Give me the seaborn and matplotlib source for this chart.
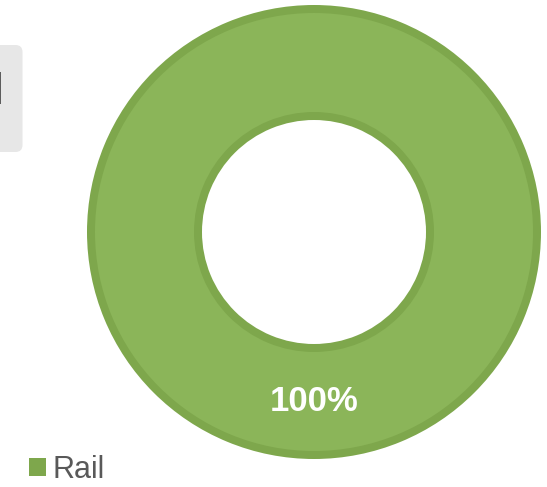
import matplotlib
matplotlib.use("Agg")
import matplotlib.pyplot as plt
from matplotlib.patches import FancyBboxPatch, Patch
import seaborn as sns

# Share of trips by mode
modes = ["Rail"]
shares = [100]
colors = ["#8bb559"]
edge_colors = ["#7ea74c"]

sns.set_theme(style="white")
plt.rcParams["font.family"] = ["Liberation Sans", "DejaVu Sans"]

W, H = 547, 487
fig = plt.figure(figsize=(W / 100, H / 100), dpi=100)
fig.patch.set_facecolor("white")


def px_box(x0, y0, w, h):
    """Pixel box (top-left origin) to figure fraction rect."""
    return [x0 / W, (H - y0 - h) / H, w / W, h / H]


# Donut axes: outer diameter 454 px
ax = fig.add_axes(px_box(87, 5, 454, 454))
ax.set_xlim(-1, 1)
ax.set_ylim(-1, 1)
ax.axis("off")

outer_r = 1.0
ring_w = 115 / 227
band = 8 / 227

# darker rim of the ring
ax.pie(shares, radius=outer_r, colors=edge_colors, startangle=90,
       counterclock=False, wedgeprops=dict(width=ring_w, linewidth=0))
# main fill of the ring with the percentage label
wedges, texts, autotexts = ax.pie(
    shares, radius=outer_r - band, colors=colors, startangle=90,
    counterclock=False, autopct="%d%%",
    pctdistance=(outer_r - ring_w / 2) / (outer_r - band),
    wedgeprops=dict(width=ring_w - 2 * band, linewidth=0),
    textprops=dict(color="white", fontsize=25, fontweight="bold"))
ax.set_xlim(-1, 1)
ax.set_ylim(-1, 1)

# title panel at the left edge
panel = fig.add_axes([0, 0, 1, 1], zorder=-1)
panel.set_xlim(0, W)
panel.set_ylim(H, 0)
panel.axis("off")
panel.add_patch(FancyBboxPatch((-20, 45), 42.5, 107,
                               boxstyle="round,pad=0,rounding_size=7",
                               facecolor="#e7e7e7", edgecolor="none"))
panel.text(3.5, 93, "l", ha="right", va="center", fontsize=32,
           color="#4a4a4a")

# legend
handles = [Patch(facecolor=c, edgecolor="none") for c in edge_colors]
fig.legend(handles, modes, loc="lower left",
           bbox_to_anchor=(23 / W, -4 / H), frameon=False,
           fontsize=22, labelcolor="#595959",
           handlelength=0.56, handleheight=0.56, handletextpad=0.22,
           borderpad=0.2, borderaxespad=0)

fig.savefig("out.png", dpi=100, facecolor="white")
